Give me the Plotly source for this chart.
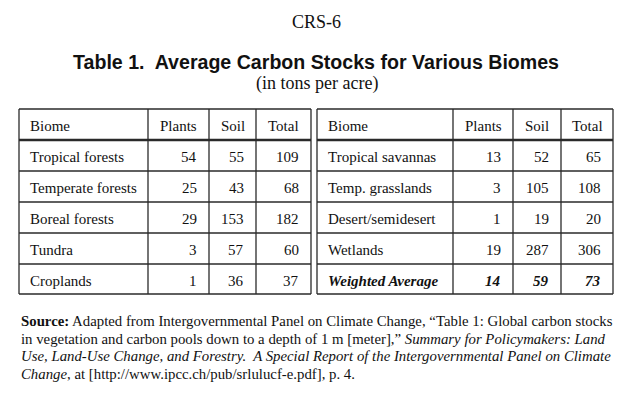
import plotly.graph_objects as go

# ---- data ----
headers = ["Biome", "Plants", "Soil", "Total"]
left_biomes = ["Tropical forests", "Temperate forests", "Boreal forests", "Tundra", "Croplands"]
left_plants = [54, 25, 29, 3, 1]
left_soil = [55, 43, 153, 57, 36]
left_total = [109, 68, 182, 60, 37]
right_biomes = ["Tropical savannas", "Temp. grasslands", "Desert/semidesert", "Wetlands", "Weighted Average"]
right_plants = [13, 3, 1, 19, 14]
right_soil = [52, 105, 19, 287, 59]
right_total = [65, 108, 20, 306, 73]

page_label = "CRS-6"
title_text = "Table 1.\u00a0 Average Carbon Stocks for Various Biomes"
subtitle_text = "(in tons per acre)"
source_lines = [
    "<b>Source:</b> Adapted from Intergovernmental Panel on Climate Change, \u201cTable 1: Global carbon stocks",
    "in vegetation and carbon pools down to a depth of 1 m [meter],\u201d <i>Summary for Policymakers: Land</i>",
    "<i>Use, Land-Use Change, and Forestry.\u00a0 A Special Report of the Intergovernmental Panel on Climate</i>",
    "<i>Change</i>, at [http://www.ipcc.ch/pub/srlulucf-e.pdf], p. 4.",
]

# ---- layout geometry (pixel-like coordinates) ----
W, H = 640, 403
OFF = 8  # page body margin compensation
SERIF = "Liberation Serif"
SANS = "Liberation Sans"
INK = "#111111"
LINE = "#2a2a2a"

left_cols = [19, 148, 209, 256, 311]
right_cols = [317, 453, 513, 561, 613]
row_edges = [109, 140, 171, 202, 233, 264, 294]

fig = go.Figure()
shapes = []
annotations = []


def hline(x0, x1, y, w=1.3):
    shapes.append(dict(type="line", xref="x", yref="y", x0=x0, x1=x1, y0=y, y1=y,
                       line=dict(color=LINE, width=w)))


def vline(x, y0, y1, w=1.3):
    shapes.append(dict(type="line", xref="x", yref="y", x0=x, x1=x, y0=y0, y1=y1,
                       line=dict(color=LINE, width=w)))


def text(x, y, s, size, anchor="left", family=SERIF, color=INK):
    annotations.append(dict(x=x, y=y, xref="x", yref="y", text=s, showarrow=False,
                            xanchor=anchor, yanchor="middle",
                            font=dict(family=family, size=size, color=color)))


CELL = 15


def draw_table(cols, biomes, plants, soil, total, last_bold=False):
    top, bottom = row_edges[0], row_edges[-1]
    for i, y in enumerate(row_edges):
        w = 2.6 if i == 1 else 1.3
        hline(cols[0], cols[-1], y, w)
    for x in cols:
        vline(x, top, bottom)
    # header
    hy = (row_edges[0] + row_edges[1]) / 2 + 1.5
    text(cols[0] + 9, hy, headers[0], CELL)
    for j in range(1, 4):
        text((cols[j] + cols[j + 1]) / 2, hy, headers[j], CELL, anchor="center")
    # rows
    for r in range(len(biomes)):
        y = (row_edges[r + 1] + row_edges[r + 2]) / 2 + 1.5
        vals = [plants[r], soil[r], total[r]]
        bold = last_bold and r == len(biomes) - 1
        fmt = (lambda s: f"<b><i>{s}</i></b>") if bold else (lambda s: str(s))
        text(cols[0] + 9, y, fmt(biomes[r]), CELL)
        for j, v in enumerate(vals):
            text(cols[j + 2] - 10, y, fmt(v), CELL, anchor="right")


draw_table(left_cols, left_biomes, left_plants, left_soil, left_total)
draw_table(right_cols, right_biomes, right_plants, right_soil, right_total, last_bold=True)

# titles
text(316, 22, page_label, 18, anchor="center")
text(316, 62, f"<b>{title_text}</b>", 19.6, anchor="center", family=SANS)
text(317, 83, subtitle_text, 18, anchor="center")

# source
src_y = [321, 338.5, 356, 373.5]
for s, y in zip(source_lines, src_y):
    text(19, y, s, 14.8)

fig.update_layout(
    width=W, height=H,
    margin=dict(l=0, r=0, t=0, b=0),
    paper_bgcolor="white", plot_bgcolor="white",
    xaxis=dict(range=[OFF, W + OFF], visible=False, fixedrange=True),
    yaxis=dict(range=[H + OFF, OFF], visible=False, fixedrange=True),
    shapes=shapes, annotations=annotations, showlegend=False,
)

fig.write_html("out.html")
